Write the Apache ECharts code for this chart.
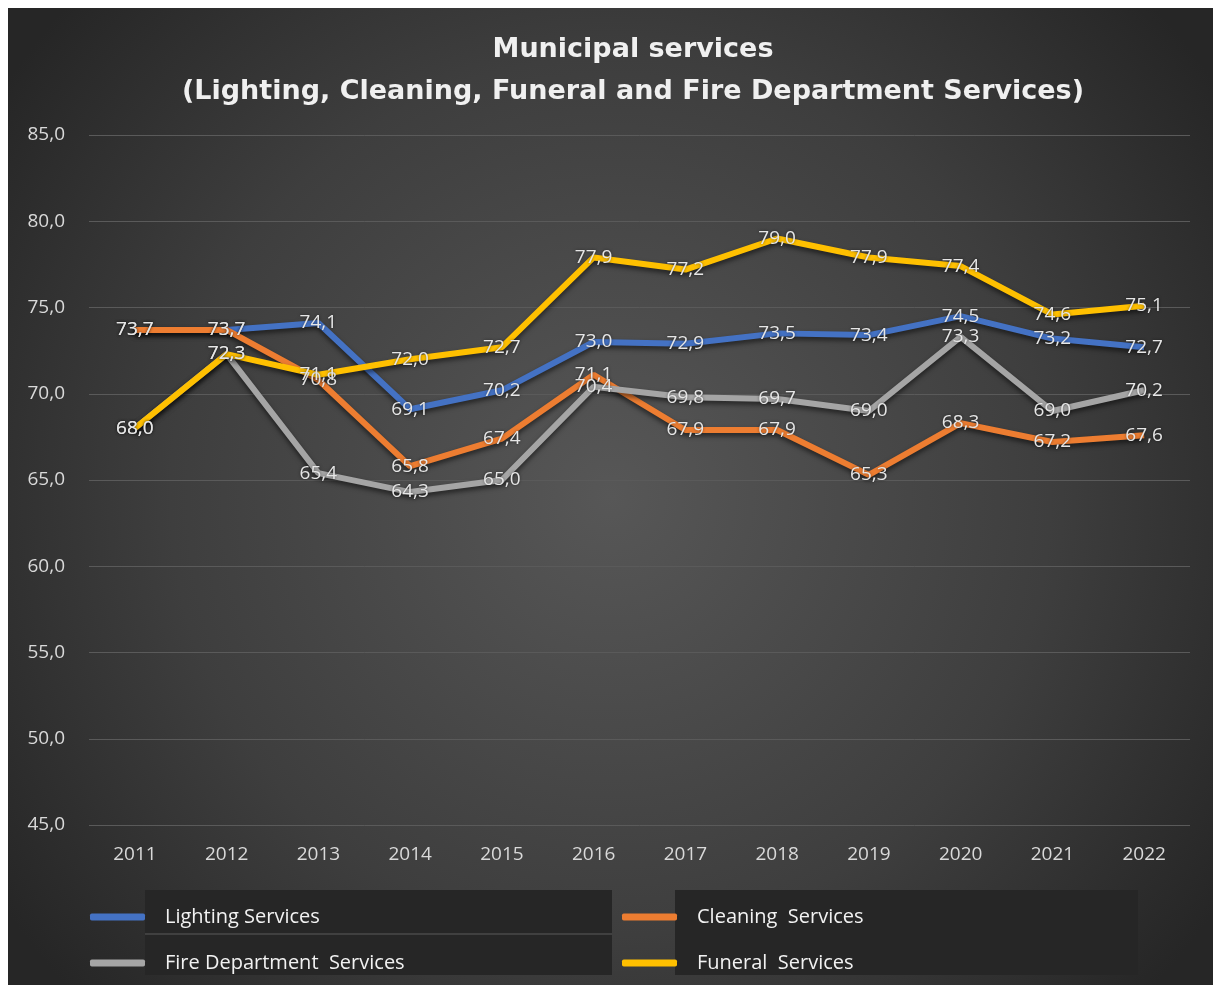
<!DOCTYPE html>
<html>
<head>
<meta charset="utf-8">
<script src="https://cdn.jsdelivr.net/npm/echarts@6/dist/echarts.min.js"></script>
<style>
html,body{margin:0;padding:0;background:#fff;}
#chart{position:absolute;left:8px;top:8px;width:1205px;height:977px;}
</style>
</head>
<body>
<div id="chart"></div>
<script>
var years = ['2011','2012','2013','2014','2015','2016','2017','2018','2019','2020','2021','2022'];
var lighting = [73.7, 73.7, 74.1, 69.1, 70.2, 73.0, 72.9, 73.5, 73.4, 74.5, 73.2, 72.7];
var cleaning = [73.7, 73.7, 70.8, 65.8, 67.4, 71.1, 67.9, 67.9, 65.3, 68.3, 67.2, 67.6];
var fire     = [68.0, 72.3, 65.4, 64.3, 65.0, 70.4, 69.8, 69.7, 69.0, 73.3, 69.0, 70.2];
var funeral  = [68.0, 72.3, 71.1, 72.0, 72.7, 77.9, 77.2, 79.0, 77.9, 77.4, 74.6, 75.1];
var seriesNames = ['Lighting Services', 'Cleaning  Services', 'Fire Department  Services', 'Funeral  Services'];
var seriesColors = ['#4472C4', '#ED7D31', '#A5A5A5', '#FFC000'];
var yTicks = [45, 50, 55, 60, 65, 70, 75, 80, 85];

var FONT = "'Open Sans', sans-serif";
var chart = echarts.init(document.getElementById('chart'));

function fmt(v){ return Number(v).toFixed(1).replace('.', ','); }

function mkSeries(name, data, color){
  return {
    name: name, type: 'line', data: data,
    symbol: 'circle', symbolSize: 0.1, showSymbol: true,
    lineStyle: {width: 6, color: color, shadowColor: 'rgba(0,0,0,0.55)', shadowBlur: 5, shadowOffsetY: 3},
    itemStyle: {color: color},
    label: {
      show: true, position: 'inside', formatter: function(p){ return fmt(p.value); },
      color: '#e6e6e6', fontFamily: FONT, fontSize: 19,
      textShadowColor: 'rgba(0,0,0,0.5)', textShadowBlur: 3
    },
    emphasis: {disabled: true},
    animation: false
  };
}

var allData = [lighting, cleaning, fire, funeral];
var legendPos = [
  {left: 77, top: 894},
  {left: 609, top: 894},
  {left: 77, top: 940},
  {left: 609, top: 940}
];
var legends = seriesNames.map(function(n, i){
  return {
    data: [{name: n, icon: 'roundRect', itemStyle: {color: seriesColors[i]}}],
    left: legendPos[i].left, top: legendPos[i].top,
    orient: 'horizontal', selectedMode: false,
    itemWidth: 55, itemHeight: 7, itemGap: 0,
    textStyle: {color: '#f2f2f2', fontFamily: FONT, fontSize: 20, padding: [0, 0, 0, 15]}
  };
});

chart.setOption({
  backgroundColor: {
    type: 'radial', x: 0.5, y: 0.5, r: 0.75,
    colorStops: [{offset: 0, color: '#575757'}, {offset: 0.6, color: '#3e3e3e'}, {offset: 1, color: '#262626'}]
  },
  title: {
    text: 'Municipal services\n(Lighting, Cleaning, Funeral and Fire Department Services)',
    left: 620, textAlign: 'center', top: 16,
    textStyle: {color: '#f0f0f0', fontFamily: "'DejaVu Sans', sans-serif", fontWeight: 'bold', fontSize: 27, lineHeight: 42}
  },
  graphic: [
    {type: 'rect', shape: {x: 137, y: 882, width: 467, height: 85}, style: {fill: '#262626'}, z: -1},
    {type: 'line', shape: {x1: 137, y1: 926, x2: 604, y2: 926}, style: {stroke: '#4a4a4a', lineWidth: 1.5}, z: -1},
    {type: 'rect', shape: {x: 667, y: 882, width: 463, height: 85}, style: {fill: '#262626'}, z: -1}
  ],
  legend: legends,
  grid: {left: 81, right: 23, top: 127, bottom: 160},
  xAxis: {
    type: 'category', data: years, boundaryGap: true,
    axisLine: {show: false}, axisTick: {show: false},
    axisLabel: {color: '#d9d9d9', fontFamily: FONT, fontSize: 19, margin: 20}
  },
  yAxis: {
    type: 'value', min: yTicks[0], max: yTicks[yTicks.length - 1], interval: 5,
    axisLine: {show: false}, axisTick: {show: false},
    axisLabel: {color: '#d9d9d9', fontFamily: FONT, fontSize: 19, margin: 24, formatter: function(v){ return fmt(v); }},
    splitLine: {lineStyle: {color: '#5a5a5a', width: 1}}
  },
  series: seriesNames.map(function(n, i){ return mkSeries(n, allData[i], seriesColors[i]); })
});
</script>
</body>
</html>
